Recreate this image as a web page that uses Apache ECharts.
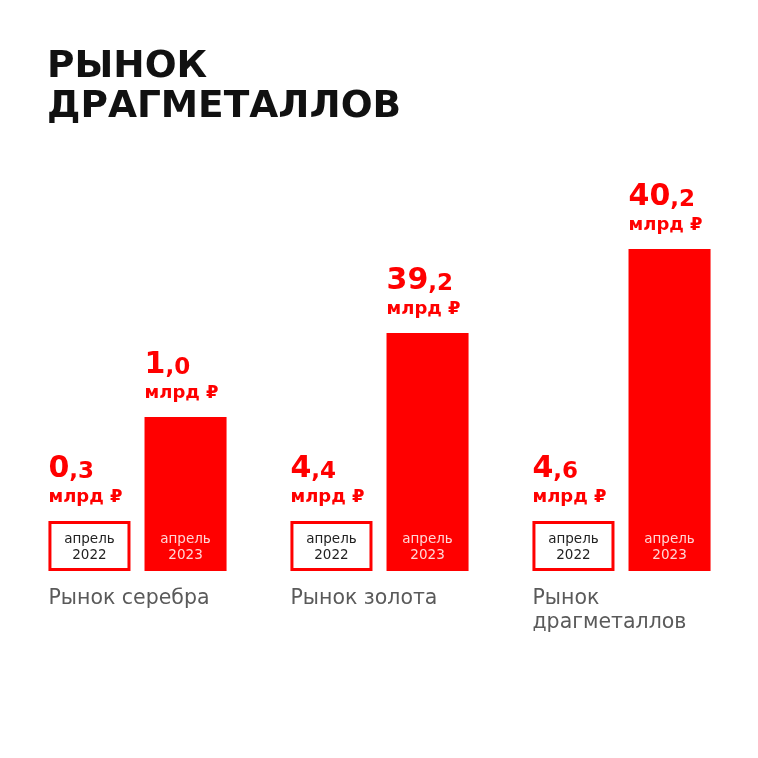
<!DOCTYPE html>
<html>
<head>
<meta charset="utf-8">
<script src="https://cdn.jsdelivr.net/npm/echarts@6/dist/echarts.min.js"></script>
<style>
html,body{margin:0;padding:0;background:#fff;}
#chart{width:758px;height:758px;}
</style>
</head>
<body>
<div id="chart"></div>
<script>
// ---- data ----
const titleText = 'РЫНОК\nДРАГМЕТАЛЛОВ';
const categories = ['Рынок серебра', 'Рынок золота', 'Рынок\nдрагметаллов'];
const periods = ['апрель\n2022', 'апрель\n2023'];
const values2022 = ['0,3', '4,4', '4,6'];   // млрд ₽
const values2023 = ['1,0', '39,2', '40,2']; // млрд ₽
const unitLabel = 'млрд ₽';
// drawn bar heights (the picture is illustrative, not to scale)
const heights2022 = [50, 50, 50];
const heights2023 = [154, 238, 322];

const RED = '#ff0000';
const FONT = '"DejaVu Sans", sans-serif';

function splitVal(s) {
  const i = s.indexOf(',');
  return {a: s.slice(0, i), b: s.slice(i)};
}

function makeRender(kind) {
  return function (params, api) {
    const idx = api.value(0);
    const h = api.value(1);
    const base = api.coord([idx, 0]);
    const top = api.coord([idx, h]);
    const bw = api.size([1, 0])[0];
    const barW = bw * 0.339;
    const gap = bw * 0.058;
    const x = kind === 0 ? base[0] - barW - gap / 2 : base[0] + gap / 2;
    const children = [];
    if (kind === 0) {
      children.push({
        type: 'rect',
        shape: {x: x + 1.5, y: top[1] + 1.5, width: barW - 3, height: base[1] - top[1] - 3},
        style: {fill: '#fff', stroke: RED, lineWidth: 3}
      });
    } else {
      children.push({
        type: 'rect',
        shape: {x: x, y: top[1], width: barW, height: base[1] - top[1]},
        style: {fill: RED}
      });
    }
    children.push({
      type: 'text',
      style: {
        text: periods[kind], x: x + barW / 2, y: base[1] - 8,
        align: 'center', verticalAlign: 'bottom',
        font: '13.5px ' + FONT, lineHeight: 16,
        fill: kind === 0 ? '#222' : '#ffd6d6'
      }
    });
    const v = splitVal((kind === 0 ? values2022 : values2023)[idx]);
    children.push({
      type: 'text',
      style: {
        text: '{a|' + v.a + '}{b|' + v.b + '}',
        x: x, y: top[1] - 37,
        align: 'left', verticalAlign: 'bottom',
        rich: {
          a: {font: 'bold 30px ' + FONT, fill: RED, lineHeight: 32, verticalAlign: 'bottom'},
          b: {font: 'bold 23px ' + FONT, fill: RED, lineHeight: 32, verticalAlign: 'bottom'}
        }
      }
    });
    children.push({
      type: 'text',
      style: {
        text: unitLabel, x: x, y: top[1] - 15,
        align: 'left', verticalAlign: 'bottom',
        font: 'bold 18px ' + FONT, fill: RED
      }
    });
    if (kind === 0) {
      children.push({
        type: 'text',
        style: {
          text: categories[idx], x: x, y: base[1] + 16,
          align: 'left', verticalAlign: 'top',
          font: '20.5px ' + FONT, lineHeight: 24, fill: '#5a5a5a'
        }
      });
    }
    return {type: 'group', children: children};
  };
}

const chart = echarts.init(document.getElementById('chart'), null, {renderer: 'canvas'});
chart.setOption({
  backgroundColor: '#fff',
  animation: false,
  title: {
    text: titleText, left: 42, top: 42,
    textStyle: {fontFamily: FONT, fontWeight: 'bold', fontSize: 37.5, lineHeight: 40, color: '#111'}
  },
  grid: {left: 16.5, right: 15.5, top: 221, bottom: 187},
  xAxis: {type: 'category', data: categories, show: false},
  yAxis: {type: 'value', min: 0, max: 350, show: false},
  series: [
    {type: 'custom', renderItem: makeRender(0), data: heights2022.map((h, i) => [i, h])},
    {type: 'custom', renderItem: makeRender(1), data: heights2023.map((h, i) => [i, h])}
  ]
});
</script>
</body>
</html>
